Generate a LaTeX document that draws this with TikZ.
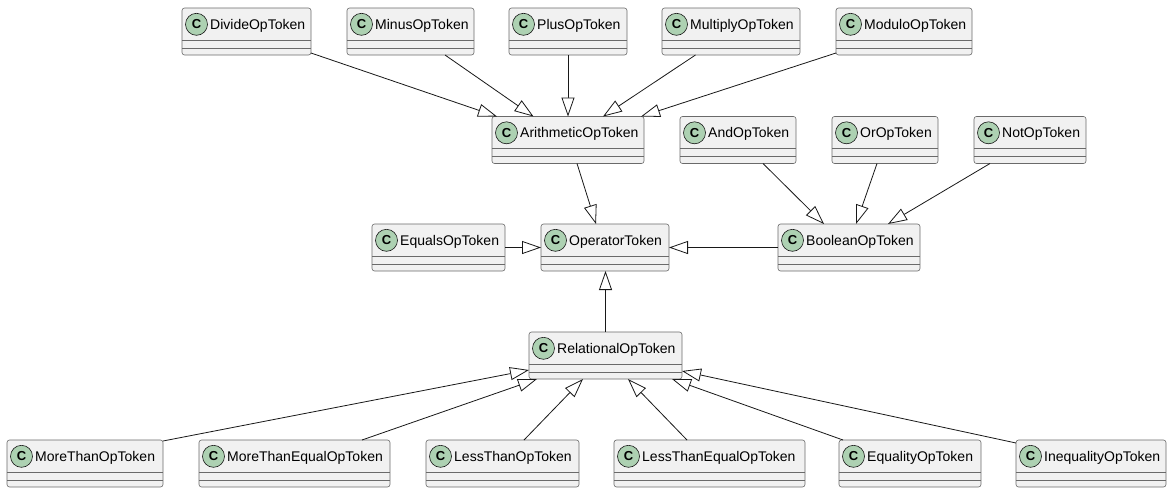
\documentclass[tikz,border=0pt]{standalone}
\usepackage{fontspec}
\setmainfont{Liberation Sans}
\usetikzlibrary{arrows.meta}
\definecolor{clsfill}{HTML}{F1F1F1}
\definecolor{clsline}{HTML}{181818}
\definecolor{boxline}{HTML}{6A6A6A}
\definecolor{circfill}{HTML}{ADD1B2}
\tikzset{
  clsbox/.style={draw=boxline, line width=0.6pt, fill=clsfill, rounded corners=2.5pt,
    minimum height=47pt, inner sep=0pt, outer sep=0pt, anchor=north west},
  clssep/.style={draw=boxline, line width=0.6pt},
  clscirc/.style={circle, draw=clsline, line width=0.6pt, fill=circfill, minimum size=22pt,
    inner sep=0pt, font=\fontsize{13}{13}\selectfont\bfseries},
  clsname/.style={anchor=base west, inner sep=0pt, font=\fontsize{14}{16}\selectfont},
  gen/.style={draw=clsline, line width=0.8pt,
    -{Triangle[length=19pt, width=13pt, fill=white]}},
}
\newcommand\umlclass[5]{%
  \node[clsbox, minimum width=#4pt] (#1) at (#2,#3) {};
  \draw[clssep] ([yshift=-32pt]#1.north west) -- ([yshift=-32pt]#1.north east);
  \draw[clssep] ([yshift=-40pt]#1.north west) -- ([yshift=-40pt]#1.north east);
  \node[clscirc] (#1-c) at ([xshift=14.5pt,yshift=-16.3pt]#1.north west) {C};
  \node[clsname] (#1-t) at ([xshift=28pt,yshift=-21pt]#1.north west) {#5};
}
\begin{document}
\begin{tikzpicture}[x=1pt, y=-1pt]
\useasboundingbox[fill=white] (0,0) rectangle (1172,493);
\umlclass{divide}{182}{8}{129}{DivideOpToken}
\umlclass{minus}{347}{8}{127}{MinusOpToken}
\umlclass{plus}{509}{8}{118}{PlusOpToken}
\umlclass{multiply}{662}{8}{138}{MultiplyOpToken}
\umlclass{modulo}{836}{8}{136}{ModuloOpToken}
\umlclass{arith}{492}{116.5}{152}{ArithmeticOpToken}
\umlclass{andop}{680}{116.5}{116}{AndOpToken}
\umlclass{orop}{832}{116.5}{106}{OrOpToken}
\umlclass{notop}{974}{116.5}{112}{NotOpToken}
\umlclass{equals}{372}{224}{133}{EqualsOpToken}
\umlclass{operator}{541}{224}{128}{OperatorToken}
\umlclass{boolean}{778}{224}{142}{BooleanOpToken}
\umlclass{relational}{529}{332}{153}{RelationalOpToken}
\umlclass{morethan}{7}{440}{156}{MoreThanOpToken}
\umlclass{morethanequal}{199}{440}{191}{MoreThanEqualOpToken}
\umlclass{lessthan}{426}{440}{153}{LessThanOpToken}
\umlclass{lessthanequal}{614}{440}{191}{LessThanEqualOpToken}
\umlclass{equality}{839}{440}{142}{EqualityOpToken}
\umlclass{inequality}{1016}{440}{150}{InequalityOpToken}
% generalizations
\draw[gen] ([yshift=2pt]divide.south east) -- ([xshift=5pt]arith.north west);
\draw[gen] ([xshift=98pt]minus.south west) -- ([xshift=41.5pt]arith.north west);
\draw[gen] ([xshift=59pt]plus.south west) -- ([xshift=76pt]arith.north west);
\draw[gen] ([xshift=33.5pt]multiply.south west) -- ([xshift=111pt]arith.north west);
\draw[gen] ([yshift=2pt]modulo.south west) -- ([xshift=-3pt]arith.north east);
\draw[gen] ([xshift=85pt]arith.south west) -- ([xshift=55pt]operator.north west);
\draw[gen] ([xshift=83pt]andop.south west) -- ([xshift=46pt]boolean.north west);
\draw[gen] ([xshift=45pt]orop.south west) -- ([xshift=78pt]boolean.north west);
\draw[gen] ([xshift=16pt]notop.south west) -- ([xshift=110pt]boolean.north west);
\draw[gen] (equals.east) -- (operator.west);
\draw[gen] (boolean.west) -- (operator.east);
\draw[gen] (relational.north) -- (relational.north |- operator.south);
\draw[gen] ([yshift=-1pt]morethan.north east) -- ([yshift=9pt]relational.south west);
\draw[gen] ([xshift=163pt]morethanequal.north west) -- ([xshift=8pt]relational.south west);
\draw[gen] ([xshift=98pt]lessthan.north west) -- ([xshift=54pt]relational.south west);
\draw[gen] ([xshift=73pt]lessthanequal.north west) -- ([xshift=99pt]relational.south west);
\draw[gen] ([xshift=4pt]equality.north west) -- ([xshift=-10pt]relational.south east);
\draw[gen] ([yshift=-3pt]inequality.north west) -- ([yshift=8pt]relational.south east);
\end{tikzpicture}
\end{document}
